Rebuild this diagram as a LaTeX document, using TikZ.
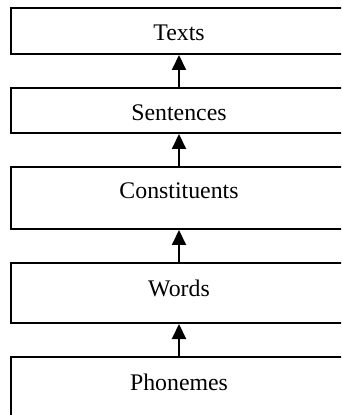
\documentclass[tikz,border=0pt]{standalone}
\usepackage{fontspec}
\setmainfont{Liberation Serif}
\usetikzlibrary{arrows.meta}
\begin{document}
\begin{tikzpicture}[x=0.5pt,y=-0.5pt,
  layer/.style={draw=black,line width=1pt,fill=white,rectangle,inner sep=0pt,
    minimum width=168pt,font=\fontsize{11.9}{14}\selectfont},
  up/.style={-{Triangle[length=7.5pt,width=7pt]},line width=1pt}]
\useasboundingbox (0,0) rectangle (341,415);
\clip (0,0) rectangle (341,415);
\node[layer,text height=16.5pt,text depth=6.5pt] (texts) at (179,31) {Texts};
\node[layer,text height=16.5pt,text depth=6pt] (sent) at (179,110.5) {Sentences};
\node[layer,text height=16pt,text depth=15pt] (const) at (179,198) {Constituents};
\node[layer,text height=16.5pt,text depth=13.5pt] (words) at (179,293) {Words};
\node[layer,text height=16.5pt,text depth=20pt] (phon) at (179,393.5) {Phonemes};
\draw[up] (sent.north) -- (texts.south);
\draw[up] (const.north) -- (sent.south);
\draw[up] (words.north) -- (const.south);
\draw[up] (phon.north) -- (words.south);
\end{tikzpicture}
\end{document}
